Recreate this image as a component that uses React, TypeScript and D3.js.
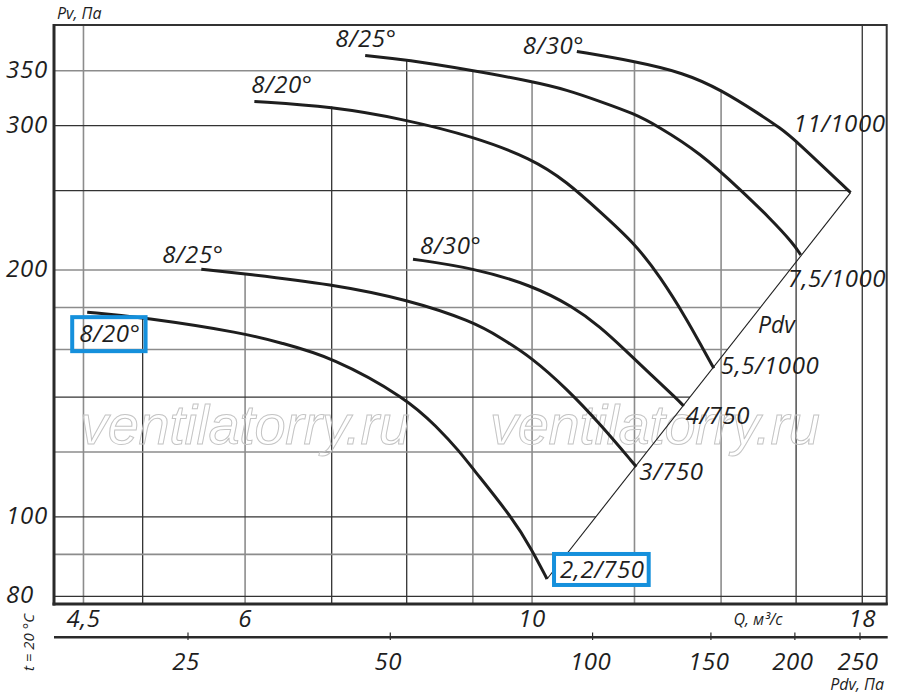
import React, { useLayoutEffect, useRef, useState } from 'react';
import * as d3 from 'd3';

// grid and tick values
const qGrid = [4.5, 5, 6, 7, 8, 9, 10, 12, 14, 16, 18];
const qGridDark = [5, 7, 8, 16, 18];
const qLabels = [4.5, 6, 10, 18];
const pvGrid = [80, 90, 100, 120, 140, 160, 180, 200, 250, 300, 350];
const pvGridDark = [80, 100, 140, 250, 300];
const pvLabels = [80, 100, 200, 300, 350];
const pdvTicks = [25, 50, 100, 150, 200, 250];

// blade angle / motor of each curve
const angleNames = ['8/20°', '8/25°', '8/30°', '8/20°', '8/25°', '8/30°'];
const motorNames = ['2,2/750', '3/750', '4/750', '5,5/1000', '7,5/1000', '11/1000'];

// Q, m3/s and Pv, Pa
const q1 = [4.53, 5.0, 6.0, 6.38, 7.0, 8.0, 8.44, 8.8, 8.97, 9.65, 10.0, 10.27];
const pv1 = [177.7, 175.2, 167.5, 163.1, 156.8, 139.5, 128.8, 119.9, 115.2, 99.9, 91.1, 84.0];
const q2 = [5.55, 6.0, 7.0, 8.0, 9.0, 9.45, 10.0, 10.64, 11.29, 12.04];
const pv2 = [200.5, 197.9, 192.2, 184.2, 173.1, 165.5, 156.3, 143.2, 129.8, 115.1];
const q3 = [8.09, 9.0, 10.0, 10.76, 11.29, 11.8, 12.34, 12.94, 13.1];
const pv3 = [206.2, 201.2, 191.6, 180.4, 170.5, 159.8, 149.4, 139.3, 136.5];
const q4 = [6.1, 7.0, 8.0, 9.0, 10.0, 10.64, 11.29, 12.0, 12.56, 13.18, 13.57, 13.82];
const pv4 = [321.1, 316.6, 305, 291, 273.4, 256.2, 235.5, 215.7, 196.4, 173.9, 159.8, 151.8];
const q5 = [7.43, 8.0, 9.0, 10.0, 10.64, 11.29, 12.0, 12.49, 13.49, 14.54, 15.28, 15.93, 16.13];
const pv5 = [365.4, 361, 350.3, 339.6, 331.8, 321.1, 310.2, 300, 278, 249.3, 231.2, 215.3, 208.7];
const q6 = [10.83, 12.0, 13.1, 14.0, 15.02, 15.56, 15.94, 17.63];
const pv6 = [369.5, 359.5, 348, 331.8, 309.3, 297.8, 289.1, 248.6];

const qs = [q1, q2, q3, q4, q5, q6];
const pvs = [pv1, pv2, pv3, pv4, pv5, pv6];

// label placement (px offsets from curve start / end)
const angleOffsets = [[-8, 30], [-39, -6], [7, -5], [-3, -8], [-30, -8], [-54, 3]];
const motorOffsets = [[13, -1], [3, 13], [2, 18], [7, 6], [-13, 32], [-57, -61]];

const W = 900;
const H = 696;
const left = 54;
const right = 886.7;
const top = 25;
const bottom = 604;
const FONT = '"Open Sans", "DejaVu Sans", sans-serif';
const INK = '#1e1e1e';
const BLUE = '#1590dc';

const x = d3.scaleLog().domain([4.27, 18.8]).range([left, right]);
const y = d3.scaleLog().domain([78.3, 398]).range([bottom, top]);
const xPdv = d3.scaleLog().domain([25, 250]).range([188, 860]);

const fmt = (v: number) => String(v).replace('.', ',');

export default function App() {
  const angleRef = useRef<SVGTextElement>(null);
  const motorRef = useRef<SVGTextElement>(null);
  const [boxes, setBoxes] = useState<any[]>([]);

  useLayoutEffect(() => {
    const b = [angleRef.current, motorRef.current].map((el: any) => el.getBBox());
    setBoxes(b);
  }, []);

  const pts = qs.map((q, i) => q.map((v, j) => [x(v), y(pvs[i][j])] as [number, number]));

  const line = d3.line().curve(d3.curveBasis);

  // highest curve above a given x (vertical grid lines stop there)
  const topAt = (px: number) => {
    let best = Infinity;
    pts.forEach((p) => {
      for (let i = 0; i < p.length - 1; i++) {
        const [x0, y0] = p[i];
        const [x1, y1] = p[i + 1];
        if (px >= x0 && px <= x1) {
          const yy = y0 + ((px - x0) / (x1 - x0)) * (y1 - y0);
          best = Math.min(best, yy);
        }
      }
    });
    return best === Infinity ? top : best;
  };

  // right envelope: last curve then the Pdv line
  const env = [...pts[5], pts[0][pts[0].length - 1]];
  const rightAt = (py: number) => {
    for (let i = 0; i < env.length - 1; i++) {
      const [x0, y0] = env[i];
      const [x1, y1] = env[i + 1];
      if (py >= y0 && py <= y1) return x0 + ((py - y0) / (y1 - y0)) * (x1 - x0);
    }
    return right;
  };

  const pdvStart = pts[0][pts[0].length - 1];
  const pdvEnd = pts[5][pts[5].length - 1];

  return (
    <svg width={W} height={H} style={{ position: 'absolute', left: 0, top: 0, background: '#fff' }}>
      {/* grid */}
      {qGrid.map((q) => {
        const dark = qGridDark.includes(q);
        return (
          <line key={'vq' + q} x1={x(q)} x2={x(q)} y1={bottom} y2={topAt(x(q))}
            stroke={dark ? '#333' : '#8c8c8c'} strokeWidth={dark ? 1.3 : 1.6} />
        );
      })}
      {pvGrid.map((p) => {
        const dark = pvGridDark.includes(p);
        return (
          <line key={'hp' + p} x1={left} x2={rightAt(y(p))} y1={y(p)} y2={y(p)}
            stroke={dark ? '#333' : '#8c8c8c'} strokeWidth={dark ? 1.3 : 1.6} />
        );
      })}

      {/* watermark */}
      {[80, 490].map((wx) => (
        <text key={wx} x={wx} y={444} fontFamily='"Liberation Sans", Arial, sans-serif' fontStyle="italic"
          fontSize={56} fill="none" stroke="#c4c4c4" strokeWidth={1} textLength={330}>
          ventilatorry.ru
        </text>
      ))}

      {/* frame */}
      <rect x={left} y={top} width={right - left} height={bottom - top} fill="none" stroke="#333" strokeWidth={2} />
      <line x1={left} x2={left} y1={top - 1} y2={bottom + 1.5} stroke="#2a2a2a" strokeWidth={3} />
      <line x1={left - 1.5} x2={right + 1} y1={bottom} y2={bottom} stroke="#2a2a2a" strokeWidth={3} />

      {/* Pdv line */}
      <line x1={pdvStart[0]} y1={pdvStart[1]} x2={pdvEnd[0]} y2={pdvEnd[1]} stroke={INK} strokeWidth={1.1} />

      {/* curves */}
      {pts.map((p, i) => (
        <path key={'c' + i} d={line(p) || ''} fill="none" stroke={INK} strokeWidth={3} />
      ))}

      {/* curve labels */}
      <g fontFamily={FONT} fontStyle="italic" fontSize={24} letterSpacing={0.6} fill={INK}>
        {pts.map((p, i) => (
          <text key={'a' + i} ref={i === 0 ? angleRef : undefined}
            x={p[0][0] + angleOffsets[i][0]} y={p[0][1] + angleOffsets[i][1]}>
            {angleNames[i]}
          </text>
        ))}
        {boxes[1] && (
          <rect x={boxes[1].x - 6} y={boxes[1].y + 2} width={boxes[1].width + 10} height={boxes[1].height - 2}
            fill="#fff" stroke={BLUE} strokeWidth={4} />
        )}
        {pts.map((p, i) => {
          const e = p[p.length - 1];
          return (
            <text key={'m' + i} ref={i === 0 ? motorRef : undefined}
              x={e[0] + motorOffsets[i][0]} y={e[1] + motorOffsets[i][1]}>
              {motorNames[i]}
            </text>
          );
        })}
        <text x={758} y={333} fontSize={23} letterSpacing={0}>Pdv</text>
      </g>
      {boxes[0] && (
        <rect x={boxes[0].x - 7} y={boxes[0].y + 1} width={boxes[0].width + 12} height={boxes[0].height + 1}
          fill="none" stroke={BLUE} strokeWidth={4} />
      )}

      {/* axes labels */}
      <g fontFamily={FONT} fontStyle="italic" fill={INK}>
        {pvLabels.map((p, i) => (
          <text key={'yl' + p} x={i === 0 ? 6 : 48} y={y(p) + 7} fontSize={24} letterSpacing={0.8}
            textAnchor={i === 0 ? 'start' : 'end'}>
            {p}
          </text>
        ))}
        {qLabels.map((q) => (
          <text key={'xl' + q} x={x(q)} y={627} fontSize={24} letterSpacing={0.5} textAnchor="middle">
            {fmt(q)}
          </text>
        ))}
        <text x={758} y={625} fontSize={16} textAnchor="middle">Q, м³/с</text>
        <text x={57} y={19} fontSize={16}>Pv, Па</text>
        <text transform="translate(34, 671) rotate(-90)" fontSize={15}>t = 20 °C</text>

        {/* dynamic pressure axis */}
        <line x1={left} x2={right + 1} y1={637.3} y2={637.3} stroke="#2a2a2a" strokeWidth={2.5} />
        {pdvTicks.map((t) => (
          <g key={'pt' + t}>
            <line x1={xPdv(t)} x2={xPdv(t)} y1={632.5} y2={640} stroke="#2a2a2a" strokeWidth={1.2} />
            <text x={xPdv(t) - 2} y={670} fontSize={24} letterSpacing={0.5} textAnchor="middle">{t}</text>
          </g>
        ))}
        <text x={884} y={690} fontSize={16} textAnchor="end">Pdv, Па</text>
      </g>
    </svg>
  );
}
